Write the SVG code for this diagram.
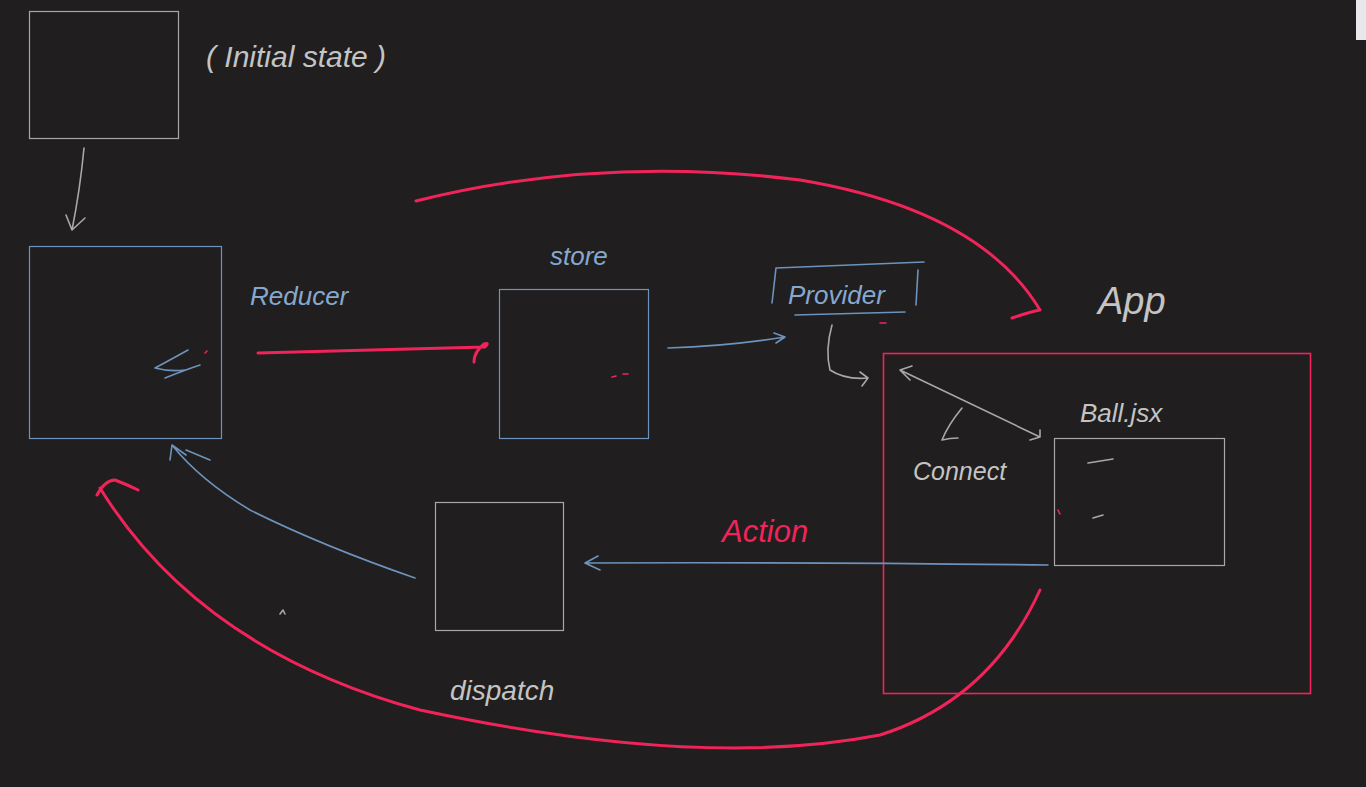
<svg xmlns="http://www.w3.org/2000/svg" width="1366" height="787" viewBox="0 0 1366 787">
<defs>
<style>
.bx{fill:none;stroke-width:1.2}
.gray{stroke:#a8a8a8}
.blue{stroke:#6d93bd}
.red{stroke:#f0245a;stroke-width:1.6}
.ln{fill:none;stroke-width:1.6;stroke-linecap:round;stroke-linejoin:round}
.rl{fill:none;stroke:#f0245a;stroke-width:3;stroke-linecap:round;stroke-linejoin:round}
.t{font-family:"Liberation Sans",sans-serif;font-style:italic;font-size:26px}
.tg{fill:#c4c4c4}
.tb{fill:#86a8cf}
.tr{fill:#f0245a}
</style>
</defs>
<rect width="1366" height="787" fill="#201e1e"/>
<rect x="1356" y="0" width="10" height="40" fill="#e8e8ec"/>

<g id="initial-state">
<rect class="bx gray" x="29.5" y="11.5" width="149" height="127"/>
<text class="t tg" x="206" y="67" style="font-size:30px">( Initial state )</text>
</g>
<g id="reducer">
<rect class="bx blue" x="29.5" y="246.5" width="192" height="192"/>
<text class="t tb" x="250" y="305">Reducer</text>
</g>
<g id="store">
<rect class="bx blue" x="499.5" y="289.5" width="149" height="149"/>
<text class="t tb" x="550" y="265">store</text>
</g>
<g id="provider">
<text class="t tb" x="788" y="304">Provider</text>
<path class="ln blue" d="M776 268 L924 262 M776 268 L772 303 M918 270 L916 305 M795 315 L905 312"/>
</g>
<g id="dispatch">
<rect class="bx gray" x="435.5" y="502.5" width="128" height="128"/>
<text class="t tg" x="450" y="700" style="font-size:28px">dispatch</text>
</g>
<g id="app">
<rect class="bx red" x="883.5" y="353.5" width="427" height="340"/>
<text class="t tg" x="1098" y="314" style="font-size:38px">App</text>
</g>
<g id="ball">
<rect class="bx gray" x="1054.5" y="438.5" width="170" height="127"/>
<text class="t tg" x="1080" y="422">Ball.jsx</text>
</g>
<g id="labels">
<text class="t tg" x="913" y="480" style="font-size:25px">Connect</text>
<text class="t tr" x="722" y="542" style="font-size:31px">Action</text>
</g>

<g id="connectors">
<path class="ln gray" d="M84 148 Q80 190 72 230 M66 215 L72 230 L85 218"/>
<path class="rl" d="M258 353 Q370 350 485 347 Q490 342 484 344 Q474 352 474 362"/>
<path class="ln blue" d="M668 348 Q730 346 785 337 M774 333 L785 337 L776 343"/>
<path class="ln gray" d="M832 325 Q825 350 830 370 Q845 380 868 378 M860 372 L868 378 L862 386"/>
<path class="ln gray" d="M900 370 L1040 437 M912 366 L900 370 L910 380 M1030 440 L1040 437 L1040 430"/>
<path class="ln gray" d="M962 408 Q948 425 942 440 Q950 438 958 438"/>
<path class="ln blue" d="M1048 565 Q800 562 585 563 M598 556 L585 563 L600 570"/>
<path class="ln blue" d="M415 578 Q320 545 250 510 Q200 480 172 445 M170 460 L172 445 L186 455 M186 450 Q198 455 210 460"/>
<path class="rl" d="M416 201 Q600 155 800 180 Q980 210 1040 310 M1012 318 Q1030 312 1040 310"/>
<path class="rl" d="M1040 590 Q990 700 880 735 Q700 770 420 710 Q200 650 100 488 M97 495 Q105 480 115 480 Q128 485 138 490"/>
</g>

<g id="marks">
<path class="ln red" d="M612 377 L616 376 M623 374 L628 374 M880 323 L886 323 M1058 510 L1060 514"/>
<path class="ln gray" d="M1088 463 L1113 459 M1093 518 L1103 515 M280 614 L283 610 L285 614"/>
<path class="ln blue" d="M188 350 Q170 360 155 368 Q170 372 185 370 M165 378 Q185 370 200 365"/>
<path class="ln red" d="M205 353 L207 351"/>
</g>
</svg>
